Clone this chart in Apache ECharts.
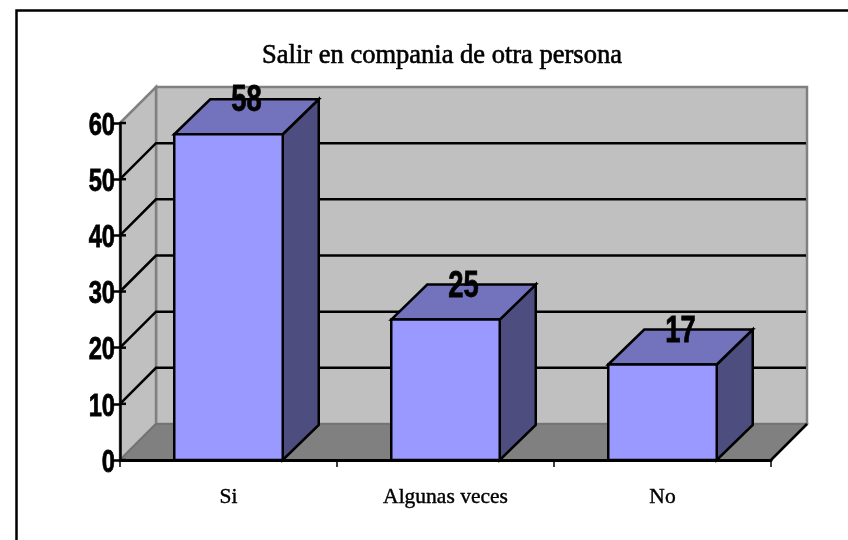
<!DOCTYPE html>
<html><head><meta charset="utf-8">
<style>html,body{margin:0;padding:0;background:#fff}#c{width:848px;height:540px}</style>
<script src="https://cdn.jsdelivr.net/npm/echarts@6/dist/echarts.min.js"></script>
</head><body><div id="c"></div>
<script>
const titleText = 'Salir en compania de otra persona';
const categories = ['Si', 'Algunas veces', 'No'];
const values = [58, 25, 17];
const gridValues = [10, 20, 30, 40, 50];
const tickValues = [0, 10, 20, 30, 40, 50, 60];
const DEPTH_X = 36, DEPTH_Y = 36, BAR_RATIO = 0.5;
const chart = echarts.init(document.getElementById('c'), null, {renderer: 'canvas'});
const WALL = '#C0C0C0', FLOOR = '#808080', EDGE = '#808080';
const sans = '"Liberation Sans",Arial,sans-serif';
const serif = '"Liberation Serif",serif';

function poly(points, fill, stroke, lw) {
  return {type: 'polygon', shape: {points}, style: {fill, stroke, lineWidth: lw, lineJoin: 'miter'}};
}
function line(points, stroke, lw) {
  return {type: 'polyline', shape: {points}, style: {fill: null, stroke, lineWidth: lw}};
}
function renderWalls(params, api) {
  const w = api.size([1, 0])[0];
  const c0 = api.coord([0, 0]), cTop = api.coord([0, 60]), cEnd = api.coord([2, 0]);
  const l = c0[0] - w / 2, r = cEnd[0] + w / 2, b = c0[1], t = cTop[1];
  const dx = DEPTH_X, dy = DEPTH_Y;
  return {type: 'group', children: [
    poly([[l + dx, t - dy], [r + dx, t - dy], [r + dx, b - dy], [l + dx, b - dy]], WALL, EDGE, 2.5),
    poly([[l, t], [l + dx, t - dy], [l + dx, b - dy], [l, b]], WALL, EDGE, 2.5),
    poly([[l, b], [l + dx, b - dy], [r + dx, b - dy], [r, b]], FLOOR, '#707070', 1.5),
    line([[r, b], [r + dx, b - dy]], '#000', 2.5)
  ]};
}
function renderGrid(params, api) {
  const w = api.size([1, 0])[0];
  const p = api.coord([0, api.value(0)]), e = api.coord([2, api.value(0)]);
  const l = p[0] - w / 2, r = e[0] + w / 2, y = p[1];
  return line([[l, y], [l + DEPTH_X, y - DEPTH_Y], [r + DEPTH_X - 1, y - DEPTH_Y]], '#000', 2.5);
}
function renderTick(params, api) {
  const v = api.value(0);
  const w = api.size([1, 0])[0];
  const p = api.coord([0, v]);
  const l = p[0] - w / 2, y = p[1];
  return {type: 'group', children: [
    line([[l, y], [l + 6, y]], '#000', 2.5),
    {type: 'text', x: l - 5, y: y + 3, scaleX: 0.74, scaleY: 1,
      style: {x: 0, y: 0, text: String(v), fill: '#000', stroke: '#000', lineWidth: 0.8,
        font: 'bold 32px ' + sans, align: 'right', verticalAlign: 'middle'}}
  ]};
}
function renderBar(params, api) {
  const i = api.value(0), v = api.value(1);
  const top = api.coord([i, v]), base = api.coord([i, 0]);
  const hw = api.size([1, 0])[0] * BAR_RATIO / 2;
  const l = top[0] - hw, r = top[0] + hw, t = top[1], b = base[1];
  const dx = DEPTH_X, dy = 35;
  return {type: 'group', children: [
    poly([[r, t], [r + dx, t - dy], [r + dx, b - dy], [r, b]], '#4D4D80', '#000', 2.5),
    poly([[l, t], [l + dx, t - dy], [r + dx, t - dy], [r, t]], '#7373BD', '#000', 2.5),
    poly([[l, t], [r, t], [r, b], [l, b]], '#9999FF', '#000', 2.5),
    {type: 'text', z2: 10, x: top[0] + 18, y: t - dy + 2, scaleX: 0.74, scaleY: 1,
      style: {x: 0, y: 0, text: String(v), fill: '#000', stroke: '#000', lineWidth: 0.8,
        font: 'bold 37px ' + sans, align: 'center', verticalAlign: 'middle'}}
  ]};
}
chart.setOption({
  animation: false,
  backgroundColor: '#fff',
  title: {text: titleText, left: 437, top: 38, textAlign: 'center',
    textStyle: {fontFamily: serif, fontSize: 26.5, fontWeight: 'normal', color: '#000',
      textBorderColor: '#000', textBorderWidth: 0.6}},
  grid: {left: 120, right: 77, top: 123, bottom: 80, containLabel: false},
  xAxis: {type: 'category', data: categories, z: 5,
    axisLine: {lineStyle: {color: '#000', width: 3}},
    axisTick: {show: true, alignWithLabel: false, length: 7, lineStyle: {color: '#000', width: 1.5}},
    axisLabel: {fontFamily: serif, fontSize: 21.5, color: '#000', margin: 26, interval: 0,
      textBorderColor: '#000', textBorderWidth: 0.4}},
  yAxis: {type: 'value', min: 0, max: 60, interval: 10, z: 5,
    axisLine: {show: true, lineStyle: {color: '#000', width: 2.5}},
    axisTick: {show: true, length: 7, lineStyle: {color: '#000', width: 2.5}},
    axisLabel: {show: false},
    splitLine: {show: false}},
  graphic: [{type: 'polyline', z: 100, shape: {points: [[16.5, 540], [16.5, 10.5], [848, 10.5]]},
    style: {fill: null, stroke: '#000', lineWidth: 2.5}}],
  series: [
    {type: 'custom', z: 1, clip: false, silent: true, data: [[0]], renderItem: renderWalls, encode: {x: 0}},
    {type: 'custom', z: 2, clip: false, silent: true, data: gridValues.map(v => [v]), renderItem: renderGrid, encode: {y: 0}},
    {type: 'custom', z: 10, clip: false, silent: true, data: values.map((v, i) => [i, v]), renderItem: renderBar, encode: {x: 0, y: 1}},
    {type: 'custom', z: 11, clip: false, silent: true, data: tickValues.map(v => [v]), renderItem: renderTick, encode: {y: 0}}
  ]
});
</script></body></html>
